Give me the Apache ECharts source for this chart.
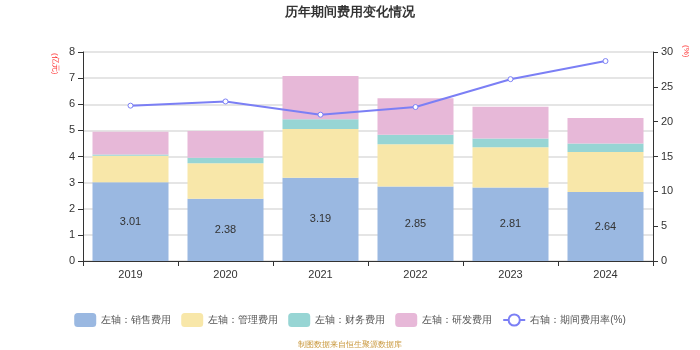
<!DOCTYPE html>
<html>
<head>
<meta charset="utf-8">
<script src="https://cdn.jsdelivr.net/npm/echarts@6/dist/echarts.min.js"></script>
<style>
  html, body { margin: 0; padding: 0; background: #fff; }
  #main { width: 700px; height: 350px; }
</style>
</head>
<body>
<div id="main"></div>
<script>
var years = ['2019', '2020', '2021', '2022', '2023', '2024'];
var sales = [3.01, 2.38, 3.19, 2.85, 2.81, 2.64];
var admin = [1.02, 1.36, 1.86, 1.62, 1.54, 1.53];
var finance = [0.05, 0.21, 0.38, 0.36, 0.34, 0.33];
var rnd = [0.87, 1.03, 1.65, 1.40, 1.21, 0.97];
var rate = [22.3, 22.9, 21.0, 22.1, 26.1, 28.7];
var leftTicks = [0, 8, 1];
var rightTicks = [0, 30, 5];

var myChart = echarts.init(document.getElementById('main'));

function barSeries(name, data, color, label) {
    return {
        name: name,
        type: 'bar',
        stack: 'cost',
        barWidth: 76,
        data: data,
        itemStyle: { color: color },
        label: label ? { show: true, position: 'inside', color: '#333', fontSize: 11 } : { show: false }
    };
}

var option = {
    animation: false,
    title: {
        text: '历年期间费用变化情况',
        left: 'center',
        top: 1,
        textStyle: { fontSize: 13, fontWeight: 'bold', color: '#333' }
    },
    legend: {
        top: 308,
        left: 'center',
        itemWidth: 22,
        itemHeight: 14,
        itemGap: 10,
        textStyle: { fontSize: 10, color: '#555' },
        data: [
            { name: '左轴：销售费用', icon: 'roundRect' },
            { name: '左轴：管理费用', icon: 'roundRect' },
            { name: '左轴：财务费用', icon: 'roundRect' },
            { name: '左轴：研发费用', icon: 'roundRect' },
            { name: '右轴：期间费用率(%)' }
        ]
    },
    grid: { left: 83, right: 47, top: 52, bottom: 89 },
    xAxis: {
        type: 'category',
        data: years,
        axisLine: { lineStyle: { color: '#333' } },
        axisTick: { show: true, alignWithLabel: false },
        axisLabel: { color: '#333', fontSize: 11, margin: 8 }
    },
    yAxis: [{
        type: 'value',
        min: leftTicks[0], max: leftTicks[1], interval: leftTicks[2],
        axisLine: { show: true, lineStyle: { color: '#333' } },
        axisTick: { show: true },
        axisLabel: { color: '#333', fontSize: 11 },
        splitLine: { lineStyle: { color: '#ddd', width: 1.5 } }
    }, {
        type: 'value',
        min: rightTicks[0], max: rightTicks[1], interval: rightTicks[2],
        axisLine: { show: true, lineStyle: { color: '#333' } },
        axisTick: { show: true },
        axisLabel: { color: '#333', fontSize: 11 },
        splitLine: { show: false }
    }],
    graphic: [{
        type: 'text',
        left: 51, top: 53,
        rotation: -Math.PI / 2,
        style: { text: '(亿元)', fill: '#f33', fontSize: 8 }
    }, {
        type: 'text',
        left: 682, top: 45,
        rotation: -Math.PI / 2,
        style: { text: '(%)', fill: '#f33', fontSize: 8 }
    }, {
        type: 'text',
        left: 'center', top: 341,
        style: { text: '制图数据来自恒生聚源数据库', fill: '#c9973a', fontSize: 8 }
    }],
    series: [
        barSeries('左轴：销售费用', sales, '#9ab8e1', true),
        barSeries('左轴：管理费用', admin, '#f8e7a9', false),
        barSeries('左轴：财务费用', finance, '#97d5d4', false),
        barSeries('左轴：研发费用', rnd, '#e7b8d8', false),
        {
            name: '右轴：期间费用率(%)',
            type: 'line',
            yAxisIndex: 1,
            data: rate,
            symbol: 'circle',
            symbolSize: 5,
            lineStyle: { color: '#7b7ff5', width: 2 },
            itemStyle: { color: '#fff', borderColor: '#7b7ff5', borderWidth: 1 }
        }
    ]
};
myChart.setOption(option);
</script>
</body>
</html>
